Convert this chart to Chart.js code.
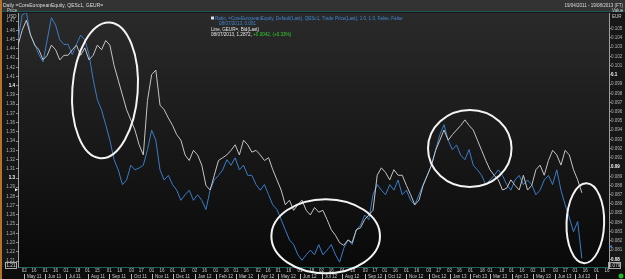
<!DOCTYPE html>
<html>
<head>
<meta charset="utf-8">
<script src="https://cdn.jsdelivr.net/npm/chart.js"></script>
<style>
    html, body { margin: 0; padding: 0; background: #161616; }
    canvas { display: block; }
</style>
</head>
<body>
<canvas id="myChart" width="625" height="279"></canvas>
<script>
// one sample every 6 calendar days, counted from 19/04/2011
var startDate = '2011-04-19';
var firstDay = 4;
var dayStep = 6;
var lastDay = 853;

// GEUR= bid (left axis, USD)
var eurUsd = [
    1.444, 1.460, 1.471, 1.455, 1.444, 1.439, 1.428, 1.433, 1.444, 1.439,
    1.428, 1.433, 1.433, 1.439, 1.444, 1.433, 1.441, 1.428, 1.433, 1.444,
    1.439, 1.449, 1.444, 1.422, 1.406, 1.390, 1.374, 1.363, 1.352, 1.336,
    1.325, 1.384, 1.412, 1.417, 1.379, 1.374, 1.365, 1.357, 1.347, 1.341,
    1.325, 1.319, 1.330, 1.325, 1.314, 1.292, 1.287, 1.303, 1.319, 1.322,
    1.325, 1.330, 1.336, 1.325, 1.341, 1.336, 1.328, 1.330, 1.325, 1.319,
    1.322, 1.309, 1.298, 1.287, 1.271, 1.276, 1.265, 1.271, 1.276, 1.265,
    1.260, 1.268, 1.263, 1.265, 1.255, 1.244, 1.238, 1.230, 1.227, 1.233,
    1.230, 1.244, 1.246, 1.255, 1.260, 1.265, 1.303, 1.311, 1.306, 1.298,
    1.309, 1.303, 1.303, 1.292, 1.282, 1.271, 1.276, 1.292, 1.303, 1.314,
    1.330, 1.341, 1.352, 1.341, 1.347, 1.352, 1.357, 1.363, 1.357, 1.352,
    1.341, 1.330, 1.319, 1.309, 1.303, 1.298, 1.287, 1.289, 1.298, 1.292,
    1.287, 1.303, 1.287, 1.292, 1.309, 1.314, 1.303, 1.319, 1.330, 1.325,
    1.314, 1.330, 1.325, 1.309, 1.298, 1.284
];

// CoreEuropeanEquity / QESc1 ratio (right axis, EUR)
var ratio = [
    0.1038, 0.1065, 0.1068, 0.1043, 0.1033, 0.1022, 0.1014, 0.1038, 0.1062, 0.1054,
    0.1038, 0.1033, 0.1033, 0.1022, 0.1033, 0.1043, 0.1038, 0.1022, 0.0995, 0.0973,
    0.0962, 0.0946, 0.0929, 0.0908, 0.0897, 0.0881, 0.0886, 0.0902, 0.0897, 0.0899,
    0.0902, 0.0919, 0.0940, 0.0929, 0.0897, 0.0886, 0.0891, 0.0881, 0.0875, 0.0864,
    0.0870, 0.0875, 0.0864, 0.0870, 0.0864, 0.0854, 0.0875, 0.0886, 0.0891, 0.0897,
    0.0908, 0.0902, 0.0910, 0.0897, 0.0902, 0.0891, 0.0891, 0.0881, 0.0875, 0.0881,
    0.0870, 0.0859, 0.0854, 0.0843, 0.0832, 0.0821, 0.0816, 0.0805, 0.0799, 0.0805,
    0.0810, 0.0805, 0.0816, 0.0805, 0.0810, 0.0816, 0.0805, 0.0797, 0.0812, 0.0821,
    0.0816, 0.0832, 0.0837, 0.0848, 0.0843, 0.0870, 0.0881, 0.0875, 0.0870, 0.0881,
    0.0875, 0.0886, 0.0870, 0.0875, 0.0864, 0.0859, 0.0870, 0.0881, 0.0891, 0.0902,
    0.0919, 0.0935, 0.0946, 0.0929, 0.0919, 0.0924, 0.0913, 0.0908, 0.0919, 0.0902,
    0.0897, 0.0891, 0.0881, 0.0886, 0.0891, 0.0897, 0.0891, 0.0881, 0.0875, 0.0886,
    0.0891, 0.0881, 0.0886, 0.0881, 0.0870, 0.0875, 0.0886, 0.0891, 0.0881, 0.0897,
    0.0875, 0.0859, 0.0845, 0.0830, 0.0841, 0.0801
];

// two date ticks per month (first one starts the month)
var dayTicks = [
    '2011-05-02', '2011-05-16', '2011-06-01', '2011-06-16', '2011-07-01', '2011-07-18',
    '2011-08-01', '2011-08-15', '2011-09-01', '2011-09-16', '2011-10-03', '2011-10-17',
    '2011-11-01', '2011-11-16', '2011-12-01', '2011-12-16',
    '2012-01-02', '2012-01-16', '2012-02-01', '2012-02-16', '2012-03-01', '2012-03-16',
    '2012-04-02', '2012-04-16', '2012-05-01', '2012-05-16', '2012-06-01', '2012-06-18',
    '2012-07-02', '2012-07-16', '2012-08-01', '2012-08-16', '2012-09-03', '2012-09-17',
    '2012-10-01', '2012-10-16', '2012-11-01', '2012-11-16', '2012-12-03', '2012-12-17',
    '2013-01-02', '2013-01-16', '2013-02-01', '2013-02-18', '2013-03-01', '2013-03-18',
    '2013-04-01', '2013-04-16', '2013-05-02', '2013-05-16', '2013-06-03', '2013-06-17',
    '2013-07-01', '2013-07-16', '2013-08-01', '2013-08-16'
];
var monthNames = [
    'May 11', 'Jun 11', 'Jul 11', 'Aug 11', 'Sep 11', 'Oct 11', 'Nov 11', 'Dec 11',
    'Jan 12', 'Feb 12', 'Mar 12', 'Apr 12', 'May 12', 'Jun 12', 'Jul 12', 'Aug 12',
    'Sep 12', 'Oct 12', 'Nov 12', 'Dec 12', 'Jan 13', 'Feb 13', 'Mar 13', 'Apr 13',
    'May 13', 'Jun 13', 'Jul 13', 'Aug 13'
];

var leftRange = [1.2036, 1.4788];
var rightRange = [0.07917, 0.1067];
var lastEurUsd = 1.2872;
var lastRatio = 0.0814;

// hand drawn ellipses: centre date, centre price (left axis), half width in days, half height in price
var circles = [
    { day: 129, price: 1.395, rd: 47, rp: 0.0737, rot: 0.07 },
    { day: 446, price: 1.237, rd: 78, rp: 0.0401, rot: 0 },
    { day: 653, price: 1.332, rd: 60, rp: 0.0417, rot: 0 },
    { day: 819, price: 1.251, rd: 27, rp: 0.0433, rot: 0.03 }
];

function dayOf(s) {
    return Math.round((Date.parse(s) - Date.parse(startDate)) / 86400000);
}

var whitePts = eurUsd.map(function (v, i) { return { x: firstDay + i * dayStep, y: v }; });
var bluePts = ratio.map(function (v, i) { return { x: firstDay + i * dayStep, y: v }; });

var FONT = 'Arial, "Liberation Sans", sans-serif';

var decor = {
    id: 'decor',
    beforeDraw: function (chart) {
        var c = chart.ctx, a = chart.chartArea;
        c.save();
        c.fillStyle = '#171717';
        c.fillRect(0, 0, 625, 279);
        var g = c.createLinearGradient(0, a.top, 0, a.bottom);
        g.addColorStop(0, '#2a2a2a');
        g.addColorStop(0.5, '#191919');
        g.addColorStop(1, '#090909');
        c.fillStyle = g;
        c.fillRect(a.left, a.top, a.right - a.left, a.bottom - a.top);
        c.fillStyle = '#0d0d0d';
        c.fillRect(0, a.bottom, 625, 279 - a.bottom);
        // title bar
        c.fillStyle = '#333333';
        c.fillRect(0, 0, 625, 11);
        c.fillStyle = '#1d5656';
        c.fillRect(0, 11, 625, 1);
        c.fillStyle = '#b8722f';
        c.fillRect(0, 0, 2, 279);
        c.restore();
    },
    afterDraw: function (chart) {
        var c = chart.ctx, a = chart.chartArea;
        var x = chart.scales.x, yl = chart.scales.y, yr = chart.scales.y2;
        c.save();
        c.textBaseline = 'middle';

        // header
        c.font = '5px ' + FONT;
        c.fillStyle = '#dddddd';
        c.textAlign = 'left';
        c.fillText('Daily =CoreEuropeanEquity, QESc1, GEUR=', 3, 5.5);
        c.font = '4.5px ' + FONT;
        c.textAlign = 'right';
        c.fillText('19/04/2011 - 19/08/2013 (FT)', 623, 5.5);

        // axis captions
        c.fillStyle = '#cccccc';
        c.textAlign = 'left';
        c.fillText('Price', 7, 11);
        c.fillText('USD', 7, 17);
        c.fillText('Value', 612, 11);
        c.fillText('EUR', 612, 17);

        // legend
        c.font = '4.6px ' + FONT;
        c.fillStyle = '#dddddd';
        c.fillRect(211, 16.5, 3, 3);
        c.fillStyle = '#3f86d2';
        c.fillText('Ratio, =CoreEuropeanEquity, Default(Last), QESc1, Trade Price(Last), 1.0, 1.0, False, False', 215, 18.5);
        c.fillText('08/07/2013, ' + lastRatio.toFixed(3), 219, 24);
        c.fillStyle = '#e8e8e8';
        c.fillText('Line, GEUR=, Bid(Last)', 211, 29.5);
        var s = '08/07/2013, ' + lastEurUsd.toFixed(4) + ', ';
        c.fillText(s, 211, 35);
        c.fillStyle = '#2fd12f';
        c.fillText('+0.0042, (+0.33%)', 211 + c.measureText(s).width, 35);

        // date row
        c.font = '4.5px ' + FONT;
        c.fillStyle = '#c4c4c4';
        c.textAlign = 'center';
        dayTicks.forEach(function (d) {
            var px = x.getPixelForValue(dayOf(d));
            if (px <= a.right + 1) c.fillText(d.slice(8), px, 271);
        });

        // month row
        c.textAlign = 'left';
        c.strokeStyle = '#bbbbbb';
        c.fillStyle = '#cccccc';
        c.lineWidth = 1;
        for (var m = 0; m < monthNames.length; m++) {
            var mx = Math.round(x.getPixelForValue(dayOf(dayTicks[2 * m]))) + 0.5;
            if (mx > a.right) continue;
            c.beginPath();
            c.moveTo(mx, 274);
            c.lineTo(mx, 279);
            c.stroke();
            if (mx + 2 + c.measureText(monthNames[m]).width < a.right) {
                c.fillText(monthNames[m], mx + 2.5, 276.5);
            }
        }

        // last value markers
        var wy = yl.getPixelForValue(lastEurUsd);
        c.fillStyle = '#ffffff';
        c.beginPath();
        c.moveTo(a.left, wy); c.lineTo(a.left - 3, wy - 1.5); c.lineTo(a.left - 3, wy + 1.5);
        c.fill();
        var by = yr.getPixelForValue(lastRatio);
        c.fillStyle = '#3f86d2';
        c.beginPath();
        c.moveTo(a.right, by); c.lineTo(a.right + 3, by - 1.5); c.lineTo(a.right + 3, by + 1.5);
        c.fill();

        // boxed axis ends
        c.strokeStyle = '#aaaaaa';
        c.fillStyle = '#dddddd';
        c.strokeRect(5.5, 262.5, 11, 6);
        c.textAlign = 'center';
        c.fillText('1.21', 11, 265.7);
        c.strokeRect(608.5, 262.5, 12, 6);
        c.fillText('0.079', 614.5, 265.7);

        // green status dot
        c.fillStyle = '#22b922';
        c.beginPath();
        c.arc(621, 276, 2.5, 0, Math.PI * 2);
        c.fill();

        // ellipses
        c.strokeStyle = '#f4f4f4';
        c.lineWidth = 2;
        circles.forEach(function (e) {
            var cx = x.getPixelForValue(e.day);
            var cy = yl.getPixelForValue(e.price);
            var rx = x.getPixelForValue(e.day + e.rd) - cx;
            var ry = cy - yl.getPixelForValue(e.price + e.rp);
            c.beginPath();
            c.ellipse(cx, cy, rx, ry, e.rot, 0, Math.PI * 2);
            c.stroke();
        });
        c.restore();
    }
};

function isRound(v, f) {
    return Math.abs(v * f - Math.round(v * f)) < 1e-6;
}

var ctx = document.getElementById('myChart').getContext('2d');
var chart = new Chart(ctx, {
    type: 'line',
    data: {
        datasets: [
            {
                label: 'GEUR=',
                data: whitePts,
                yAxisID: 'y',
                borderColor: '#c4c4c4',
                borderWidth: 1,
                pointRadius: 0,
                tension: 0,
                order: 1
            },
            {
                label: 'Ratio',
                data: bluePts,
                yAxisID: 'y2',
                borderColor: '#3a7cc6',
                borderWidth: 1,
                pointRadius: 0,
                tension: 0,
                order: 2
            }
        ]
    },
    options: {
        animation: false,
        responsive: false,
        devicePixelRatio: 1,
        layout: { padding: { top: 13, left: 0, right: 0, bottom: 0 } },
        plugins: { legend: { display: false }, tooltip: { enabled: false } },
        scales: {
            x: {
                type: 'linear',
                min: firstDay,
                max: lastDay,
                grid: { display: false },
                border: { display: true, color: '#1f6060', width: 1 },
                afterFit: function (scale) { scale.height = 12; },
                ticks: { display: false }
            },
            y: {
                position: 'left',
                min: leftRange[0],
                max: leftRange[1],
                grid: { display: true, drawOnChartArea: false, tickLength: 2, color: '#888888' },
                border: { display: true, color: '#a0a0a0' },
                afterFit: function (scale) { scale.width = 18; },
                ticks: {
                    stepSize: 0.01,
                    includeBounds: false,
                    padding: 1,
                    font: function (c) {
                        var v = c.tick ? c.tick.value : 0;
                        return { size: 4.5, family: FONT, weight: isRound(v, 10) ? 'bold' : 'normal' };
                    },
                    color: function (c) {
                        var v = c.tick ? c.tick.value : 0;
                        return isRound(v, 10) ? '#ffffff' : '#b4b4b4';
                    },
                    callback: function (v) { return String(parseFloat(v.toFixed(2))); }
                }
            },
            y2: {
                position: 'right',
                min: rightRange[0],
                max: rightRange[1],
                grid: { display: true, drawOnChartArea: false, tickLength: 2, color: '#888888' },
                border: { display: true, color: '#a0a0a0' },
                afterFit: function (scale) { scale.width = 16; },
                afterBuildTicks: function (scale) {
                    scale.ticks = scale.ticks.filter(function (t) { return t.value < 0.1055; });
                },
                ticks: {
                    stepSize: 0.001,
                    includeBounds: false,
                    padding: 0,
                    font: function (c) {
                        var v = c.tick ? c.tick.value : 0;
                        return { size: 4.5, family: FONT, weight: isRound(v, 100) ? 'bold' : 'normal' };
                    },
                    color: function (c) {
                        var v = c.tick ? c.tick.value : 0;
                        return isRound(v, 100) ? '#ffffff' : '#b4b4b4';
                    },
                    callback: function (v) { return String(parseFloat(v.toFixed(3))); }
                }
            }
        }
    },
    plugins: [decor]
});
</script>
</body>
</html>
